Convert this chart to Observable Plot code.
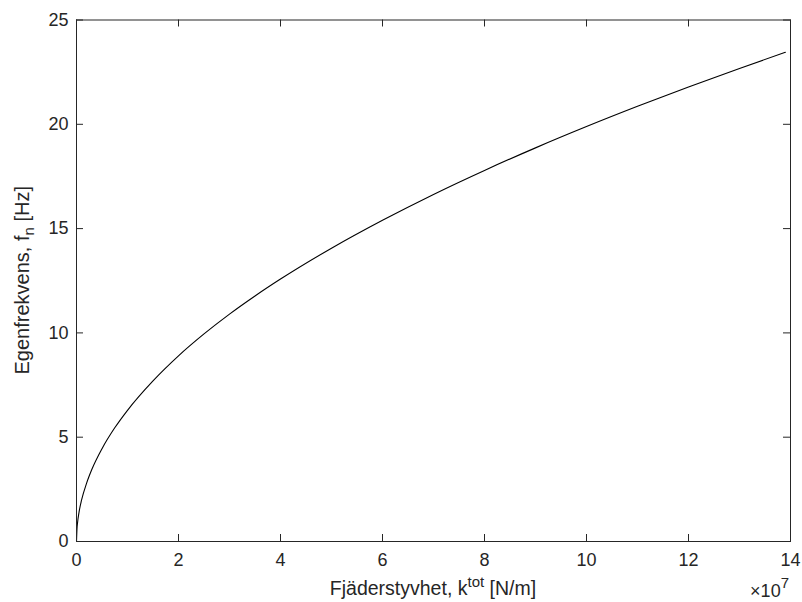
<!DOCTYPE html>
<html><head><meta charset="utf-8">
<script src="https://cdn.jsdelivr.net/npm/d3@7"></script>
<script src="https://cdn.jsdelivr.net/npm/@observablehq/plot@0.6"></script>
<style>body{margin:0;background:#fff;} #chart svg{display:block;}</style>
</head><body><div id="chart"></div>
<script>
// Spring stiffness k_tot, in units of 10^7 N/m
const stiffness = [0, 0.01, 0.02, 0.05, 0.1, 0.2, 0.3, 0.5, 0.75, 1, 1.5, 2, 2.5, 3, 3.5, 4, 5, 6, 7, 8, 9, 10, 11, 12, 13, 13.9];
// Natural frequency f_n [Hz]
const frequency = [0, 0.63, 0.89, 1.41, 1.99, 2.81, 3.45, 4.45, 5.45, 6.29, 7.70, 8.90, 9.95, 10.9, 11.77, 12.58, 14.06, 15.4, 16.64, 17.79, 18.87, 19.89, 20.86, 21.79, 22.68, 23.45];
const xTicks = [0, 2, 4, 6, 8, 10, 12, 14];
const yTicks = [0, 5, 10, 15, 20, 25];
const xLabel = ["Fjäderstyvhet, k", "tot", " [N/m]"];
const yLabel = ["Egenfrekvens, f", "n", " [Hz]"];
const exponent = ["×10", "7"];

const W = 802, H = 602, mL = 76, mR = 12, mT = 19.5, mB = 61;
const ph = H - mT - mB, pw = W - mL - mR;
const ink = "#262626";
const data = stiffness.map((k, i) => ({k, f: frequency[i]}));

const plot = Plot.plot({
  width: W, height: H,
  marginLeft: mL, marginRight: mR, marginTop: mT, marginBottom: mB,
  style: {fontFamily: "'Liberation Sans', Arial, Helvetica, sans-serif", fontSize: "18px", color: ink, background: "#fff"},
  x: {domain: [0, 14]},
  y: {domain: [0, 25]},
  marks: [
    Plot.tickX(xTicks, {x: d => d, insetTop: ph - 7, stroke: ink}),
    Plot.tickX(xTicks, {x: d => d, insetBottom: ph - 7, stroke: ink}),
    Plot.tickY(yTicks, {y: d => d, insetRight: pw - 7, stroke: ink}),
    Plot.tickY(yTicks, {y: d => d, insetLeft: pw - 7, stroke: ink}),
    Plot.line(data, {x: "k", y: "f", stroke: "#000", strokeWidth: 1.1, curve: "monotone-x"}),
    Plot.frame({stroke: ink}),
    Plot.axisX(xTicks, {tickSize: 0, tickPadding: 12, fontSize: 18, fill: ink, label: null}),
    Plot.axisY(yTicks, {tickSize: 0, tickPadding: 8, fontSize: 18, fill: ink, label: null})
  ]
});
document.getElementById("chart").appendChild(plot);

const svg = d3.select(plot);
const font = "'Liberation Sans', Arial, Helvetica, sans-serif";
// x label
const xl = svg.append("text")
  .attr("x", (mL + W - mR) / 2).attr("y", H - 7)
  .attr("text-anchor", "middle").attr("font-size", 19.5).attr("fill", ink).attr("font-family", font);
xl.append("tspan").text(xLabel[0]);
xl.append("tspan").attr("font-size", 15).attr("dy", -8).text(xLabel[1]);
xl.append("tspan").attr("dy", 8).text(xLabel[2]);
// y label
const yl = svg.append("text")
  .attr("transform", `translate(29,${(mT + H - mB) / 2}) rotate(-90)`)
  .attr("text-anchor", "middle").attr("font-size", 20).attr("fill", ink).attr("font-family", font);
yl.append("tspan").text(yLabel[0]);
yl.append("tspan").attr("font-size", 15).attr("dy", 5).text(yLabel[1]);
yl.append("tspan").attr("dy", -5).text(yLabel[2]);
// exponent
const ex = svg.append("text")
  .attr("x", W - mR - 1).attr("y", H - 5)
  .attr("text-anchor", "end").attr("font-size", 18).attr("fill", ink).attr("font-family", font);
ex.append("tspan").text(exponent[0]);
ex.append("tspan").attr("font-size", 15).attr("dy", -9).text(exponent[1]);
</script>
</body></html>
